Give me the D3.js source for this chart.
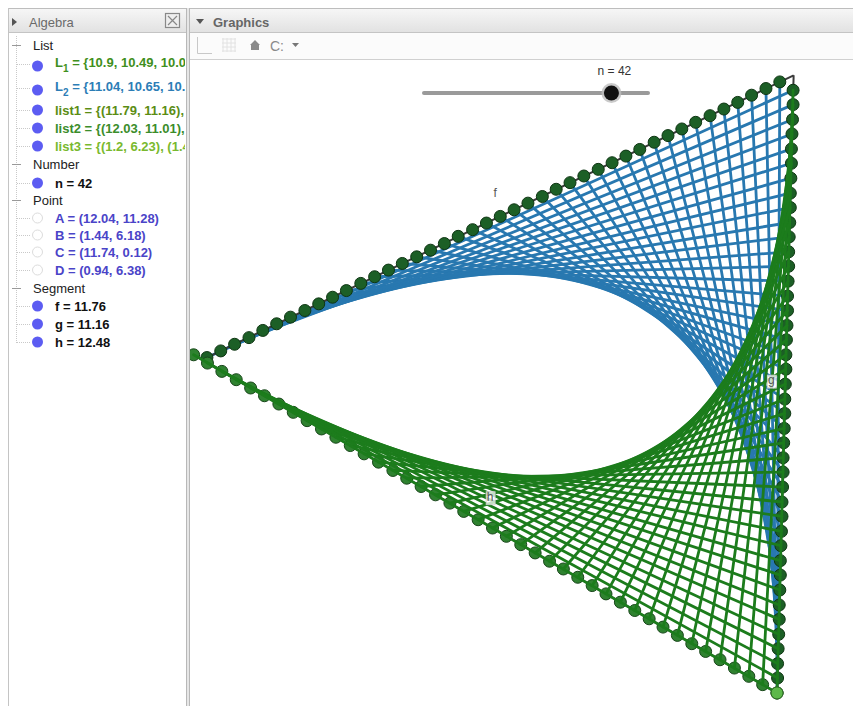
<!DOCTYPE html>
<html><head><meta charset="utf-8">
<script src="https://cdn.jsdelivr.net/npm/d3@7"></script>
<style>body{margin:0;background:#fff;} svg{display:block;}</style>
</head><body>
<svg id="chart" width="853" height="706"></svg>
<script>
// ---------- DATA (GeoGebra construction, read from the algebra view) ----------
const n = 42;
const sliderRange = [1, 50];
const pointNames = ["A", "B", "C", "D"];
const pointX = [12.04, 1.44, 11.74, 0.94];
const pointY = [11.28, 6.18, 0.12, 6.38];
const segmentNames = ["f", "g", "h"];
const segmentLengths = [11.76, 11.16, 12.48];
const segmentFrom = ["B", "A", "D"];
const segmentTo = ["A", "C", "C"];
// lengths shown for the segment lists (first entries, as displayed)
const L1Lengths = [10.9, 10.49, 10.09];
const L2Lengths = [11.04, 10.65, 10.26];

// list1: points on f (from A toward B)
const list1X = [11.79,11.54,11.28,11.03,10.78,10.53,10.27,10.02,9.77,9.52,9.26,9.01,8.76,8.51,8.25,8.00,7.75,7.50,7.24,6.99,6.74,6.49,6.24,5.98,5.73,5.48,5.23,4.97,4.72,4.47,4.22,3.96,3.71,3.46,3.21,2.95,2.70,2.45,2.20,1.94,1.69,1.44];
const list1Y = [11.16,11.04,10.92,10.79,10.67,10.55,10.43,10.31,10.19,10.07,9.94,9.82,9.70,9.58,9.46,9.34,9.22,9.09,8.97,8.85,8.73,8.61,8.49,8.37,8.24,8.12,8.00,7.88,7.76,7.64,7.52,7.39,7.27,7.15,7.03,6.91,6.79,6.67,6.54,6.42,6.30,6.18];
// list2: points on g (from A toward C)
const list2X = [12.03,12.03,12.02,12.01,12.00,12.00,11.99,11.98,11.98,11.97,11.96,11.95,11.95,11.94,11.93,11.93,11.92,11.91,11.90,11.90,11.89,11.88,11.88,11.87,11.86,11.85,11.85,11.84,11.83,11.83,11.82,11.81,11.80,11.80,11.79,11.78,11.78,11.77,11.76,11.75,11.75,11.74];
const list2Y = [11.01,10.75,10.48,10.22,9.95,9.69,9.42,9.15,8.89,8.62,8.36,8.09,7.83,7.56,7.29,7.03,6.76,6.50,6.23,5.97,5.70,5.43,5.17,4.90,4.64,4.37,4.11,3.84,3.57,3.31,3.04,2.78,2.51,2.25,1.98,1.71,1.45,1.18,0.92,0.65,0.39,0.12];
// list3: points on h (from D toward C)
const list3X = [1.20,1.45,1.71,1.97,2.23,2.48,2.74,3.00,3.25,3.51,3.77,4.03,4.28,4.54,4.80,5.05,5.31,5.57,5.83,6.08,6.34,6.60,6.85,7.11,7.37,7.63,7.88,8.14,8.40,8.65,8.91,9.17,9.43,9.68,9.94,10.20,10.45,10.71,10.97,11.23,11.48,11.74];
const list3Y = [6.23,6.08,5.93,5.78,5.63,5.49,5.34,5.19,5.04,4.89,4.74,4.59,4.44,4.29,4.14,4.00,3.85,3.70,3.55,3.40,3.25,3.10,2.95,2.80,2.65,2.50,2.36,2.21,2.06,1.91,1.76,1.61,1.46,1.31,1.16,1.01,0.87,0.72,0.57,0.42,0.27,0.12];

// ---------- helpers ----------
const P = {};
pointNames.forEach((k, i) => P[k] = {x: pointX[i], y: pointY[i]});
const zip = (xs, ys) => xs.map((x, i) => ({x, y: ys[i]}));
const list1 = zip(list1X, list1Y), list2 = zip(list2X, list2Y), list3 = zip(list3X, list3Y);
const fmt = v => String(+v.toFixed(2));
// L2 (blue): Segment(list1(i), list2(n+1-i));  L1 (green): Segment(list2(i), list3(n+1-i))
const L2 = list1.map((p, k) => [p, list2[n - 1 - k]]);
const L1 = list2.map((p, k) => [p, list3[n - 1 - k]]);

const svg = d3.select("#chart");
const defs = svg.append("defs");
const grad = defs.append("linearGradient").attr("id", "hdr").attr("x1", 0).attr("x2", 0).attr("y1", 0).attr("y2", 1);
grad.append("stop").attr("offset", "0%").attr("stop-color", "#f6f6f6");
grad.append("stop").attr("offset", "100%").attr("stop-color", "#e2e2e2");
defs.append("clipPath").attr("id", "gclip").append("rect").attr("x", 190).attr("y", 60).attr("width", 663).attr("height", 646);
defs.append("clipPath").attr("id", "aclip").append("rect").attr("x", 9).attr("y", 33).attr("width", 176).attr("height", 673);

// ---------- window frame ----------
svg.append("rect").attr("x", 0).attr("y", 0).attr("width", 853).attr("height", 706).attr("fill", "#fff");
svg.append("rect").attr("x", 9).attr("y", 9).attr("width", 177).attr("height", 23).attr("fill", "url(#hdr)");
svg.append("rect").attr("x", 190).attr("y", 9).attr("width", 663).attr("height", 23).attr("fill", "url(#hdr)");
svg.append("rect").attr("x", 190).attr("y", 33).attr("width", 663).attr("height", 26).attr("fill", "#fbfbfb");
const frame = svg.append("g").attr("stroke", "#c4c4c4").attr("stroke-width", 1).attr("fill", "none");
frame.append("line").attr("x1", 8).attr("x2", 853).attr("y1", 8.5).attr("y2", 8.5).attr("stroke", "#bdbdbd");
frame.append("line").attr("x1", 8.5).attr("x2", 8.5).attr("y1", 8).attr("y2", 706);
frame.append("line").attr("x1", 9).attr("x2", 186).attr("y1", 32.5).attr("y2", 32.5);
frame.append("line").attr("x1", 190).attr("x2", 853).attr("y1", 32.5).attr("y2", 32.5);
frame.append("line").attr("x1", 190).attr("x2", 853).attr("y1", 59.5).attr("y2", 59.5).attr("stroke", "#d0d0d0");
frame.append("line").attr("x1", 186.5).attr("x2", 186.5).attr("y1", 8).attr("y2", 706).attr("stroke", "#b8b8b8");
frame.append("line").attr("x1", 189.5).attr("x2", 189.5).attr("y1", 8).attr("y2", 706).attr("stroke", "#b8b8b8");
svg.append("rect").attr("x", 187).attr("y", 8).attr("width", 2).attr("height", 698).attr("fill", "#e6e6e6");

// Algebra header
svg.append("path").attr("d", "M12,18 L17,22 L12,26 Z").attr("fill", "#555");
svg.append("text").attr("x", 29).attr("y", 27).attr("font-family", "Liberation Sans, Arial, sans-serif")
  .attr("font-size", 13).attr("fill", "#6a6a6a").text("Algebra");
const cb = svg.append("g").attr("stroke", "#888").attr("fill", "none").attr("stroke-width", 1.2);
cb.append("rect").attr("x", 165.5).attr("y", 13.5).attr("width", 14).attr("height", 14).attr("fill", "#eee");
cb.append("path").attr("d", "M168,16 L177,25 M177,16 L168,25");
// Graphics header
svg.append("path").attr("d", "M196,19 L204,19 L200,24 Z").attr("fill", "#555");
svg.append("text").attr("x", 213).attr("y", 27).attr("font-family", "Liberation Sans, Arial, sans-serif")
  .attr("font-size", 13).attr("font-weight", "bold").attr("fill", "#666").text("Graphics");
// toolbar icons
const tb = svg.append("g").attr("fill", "none").attr("stroke", "#c8c8c8").attr("stroke-width", 1);
tb.append("path").attr("d", "M197.5,37 L197.5,53.5 L212,53.5");
for (let i = 0; i < 4; i++) {
  tb.append("line").attr("x1", 223 + i * 4).attr("x2", 223 + i * 4).attr("y1", 38).attr("y2", 52).attr("stroke", "#e2e2e2");
  tb.append("line").attr("x1", 222).attr("x2", 236).attr("y1", 39 + i * 4).attr("y2", 39 + i * 4).attr("stroke", "#e2e2e2");
}
svg.append("path").attr("d", "M255,40 L260,45 L259,45 L259,50 L251,50 L251,45 L250,45 Z").attr("fill", "#8a8a8a");
svg.append("text").attr("x", 270).attr("y", 51).attr("font-family", "Liberation Sans, Arial, sans-serif")
  .attr("font-size", 14).attr("fill", "#8a8a8a").text("C:");
svg.append("path").attr("d", "M292,43 L299,43 L295.5,47 Z").attr("fill", "#777");

// ---------- Algebra view ----------
const alg = svg.append("g").attr("clip-path", "url(#aclip)").attr("font-family", "Liberation Sans, Arial, sans-serif").attr("font-size", 13);
const tree = alg.append("g").attr("stroke", "#c9c9c9").attr("stroke-dasharray", "1,1").attr("fill", "none");
tree.append("line").attr("x1", 16.5).attr("x2", 16.5).attr("y1", 36).attr("y2", 343);
const headerRows = [{t: "List", y: 45}, {t: "Number", y: 164}, {t: "Point", y: 200}, {t: "Segment", y: 288}];
headerRows.forEach(h => {
  alg.append("line").attr("x1", 12).attr("x2", 21).attr("y1", h.y + 0.5).attr("y2", h.y + 0.5).attr("stroke", "#999");
  alg.append("text").attr("x", 33).attr("y", h.y + 5).attr("fill", "#222").text(h.t);
});
const listText = (name, arr) => name + " = {" + arr.slice(0, 2).map(p => "(" + fmt(p.x) + ", " + fmt(p.y) + ")").join(", ");
const rows = [
  {y: 64, kind: "L", sub: "1", body: " = {" + L1Lengths.map(fmt).join(", "), col: "#3f8f20", filled: true},
  {y: 88, kind: "L", sub: "2", body: " = {" + L2Lengths.map(fmt).join(", "), col: "#2c7db6", filled: true},
  {y: 110, txt: listText("list1", list1), col: "#5b8d14", filled: true},
  {y: 128, txt: listText("list2", list2), col: "#3b8d2b", filled: true},
  {y: 146, txt: listText("list3", list3), col: "#79b92e", filled: true},
  {y: 183, txt: "n = " + n, col: "#111", filled: true},
  ...pointNames.map((k, i) => ({y: [218, 235, 252, 270][i], txt: k + " = (" + fmt(pointX[i]) + ", " + fmt(pointY[i]) + ")", col: "#4a44c8", filled: false})),
  ...segmentNames.map((k, i) => ({y: [306, 324, 342][i], txt: k + " = " + fmt(segmentLengths[i]), col: "#111", filled: true}))
];
rows.forEach(r => {
  tree.append("line").attr("x1", 17).attr("x2", 30).attr("y1", r.y + 0.5).attr("y2", r.y + 0.5);
  if (r.filled) alg.append("circle").attr("cx", 37.5).attr("cy", r.y + (r.kind ? 2 : 0)).attr("r", 5.5).attr("fill", "#5c5cf2");
  else alg.append("circle").attr("cx", 37.5).attr("cy", r.y).attr("r", 5).attr("fill", "#fff").attr("stroke", "#dcdcdc");
  const t = alg.append("text").attr("x", 55).attr("y", r.y + 4.5).attr("fill", r.col).attr("font-weight", "bold");
  if (r.kind) {
    t.attr("y", r.y + 3);
    t.append("tspan").text(r.kind);
    t.append("tspan").attr("dy", 5).attr("font-size", 10).text(r.sub);
    t.append("tspan").attr("dy", -5).text(r.body);
  } else t.text(r.txt);
});

// ---------- Graphics view ----------
const x = d3.scaleLinear().domain([0, 12.5]).range([127.2, 819.1]);
const y = d3.scaleLinear().domain([0, 11.5]).range([699.6, 63.1]);
const g = svg.append("g").attr("clip-path", "url(#gclip)");

// blue segment list L2
g.append("g").selectAll("line").data(L2).join("line")
  .attr("x1", d => x(d[0].x)).attr("y1", d => y(d[0].y))
  .attr("x2", d => x(d[1].x)).attr("y2", d => y(d[1].y))
  .attr("stroke", "#2878b0").attr("stroke-width", 2.8).attr("stroke-linecap", "round");

// segments f, g, h
g.append("g").selectAll("line").data(segmentNames).join("line")
  .attr("x1", (d, i) => x(P[segmentFrom[i]].x)).attr("y1", (d, i) => y(P[segmentFrom[i]].y))
  .attr("x2", (d, i) => x(P[segmentTo[i]].x)).attr("y2", (d, i) => y(P[segmentTo[i]].y))
  .attr("stroke", "#3a3a3a").attr("stroke-width", 2);

// dots list1, list2, list3
const dot = (data, fill, stroke, cls) => g.append("g").selectAll("circle." + cls).data(data).join("circle")
  .attr("class", cls).attr("cx", d => x(d.x)).attr("cy", d => y(d.y)).attr("r", 6)
  .attr("fill", fill).attr("stroke", stroke).attr("stroke-width", 1);
dot(list1, "#1c5f26", "#0e3512", "l1");
dot(list2, "#1c5f26", "#0e3512", "l2");
dot(list3, "#2f8230", "#18461a", "l3");

// green segment list L1
g.append("g").selectAll("line").data(L1).join("line")
  .attr("x1", d => x(d[0].x)).attr("y1", d => y(d[0].y))
  .attr("x2", d => x(d[1].x)).attr("y2", d => y(d[1].y))
  .attr("stroke", "#1c7c1c").attr("stroke-width", 2.8).attr("stroke-linecap", "round");

// last point of list3 (C) on top
dot([list3[n - 1]], "#5db84a", "#2f6f25", "lc");

// segment labels
const labelOffset = {f: [-5, -19], g: [-14, 0], h: [12, -19]};
const lab = g.append("g").attr("font-family", "Liberation Sans, Arial, sans-serif").attr("font-size", 12).attr("fill", "#555");
segmentNames.forEach((k, i) => {
  const a = P[segmentFrom[i]], b = P[segmentTo[i]];
  const mx = x((a.x + b.x) / 2) + labelOffset[k][0], my = y((a.y + b.y) / 2) + labelOffset[k][1];
  if (k !== "f") lab.append("rect").attr("x", mx - 4).attr("y", my - 9).attr("width", 9).attr("height", 13)
    .attr("fill", "#fff").attr("fill-opacity", 0.75).attr("stroke", "#ccc").attr("stroke-width", 0.8);
  lab.append("text").attr("x", mx).attr("y", my).attr("text-anchor", "middle").text(k);
});

// slider n
const s = d3.scaleLinear().domain(sliderRange).range([424, 648]);
g.append("line").attr("x1", s(sliderRange[0])).attr("x2", s(sliderRange[1])).attr("y1", 93).attr("y2", 93)
  .attr("stroke", "#9a9a9a").attr("stroke-width", 4).attr("stroke-linecap", "round");
g.append("circle").attr("cx", s(n)).attr("cy", 93).attr("r", 10).attr("fill", "#bdbdbd").attr("opacity", 0.8);
g.append("circle").attr("cx", s(n)).attr("cy", 93).attr("r", 7.5).attr("fill", "#111");
g.append("text").attr("x", s(n) + 3).attr("y", 75).attr("text-anchor", "middle")
  .attr("font-family", "Liberation Sans, Arial, sans-serif").attr("font-size", 12).attr("fill", "#333").text("n = " + n);
</script>
</body></html>
